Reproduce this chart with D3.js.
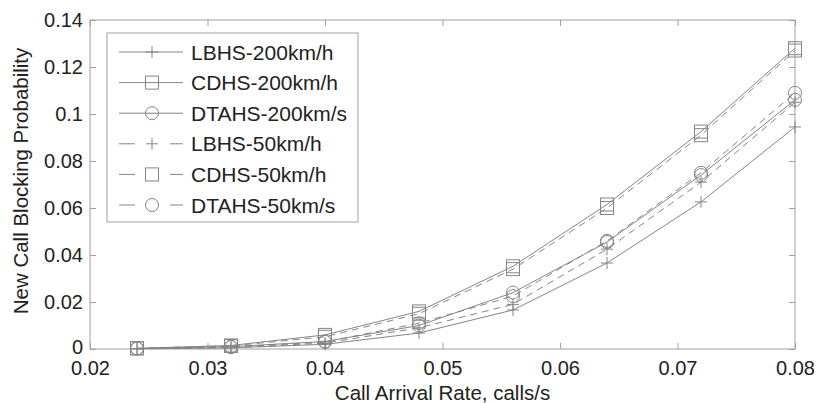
<!DOCTYPE html>
<meta charset="utf-8">
<style>
  body { margin: 0; background: #fff; }
  text { font-family: "Liberation Sans", Arial, sans-serif; fill: #222; }
</style>
<body>
<div id="chart"></div>
<script src="https://d3js.org/d3.v7.min.js"></script>
<script>
// data
var rates = [0.024, 0.032, 0.040, 0.048, 0.056, 0.064, 0.072, 0.080];
var lbhs200  = [0.0001, 0.0005, 0.0020, 0.0068, 0.0166, 0.0366, 0.0626, 0.0945];
var cdhs200  = [0.0003, 0.0015, 0.0060, 0.0160, 0.0352, 0.0615, 0.0925, 0.1280];
var dtahs200 = [0.0002, 0.0010, 0.0032, 0.0100, 0.0240, 0.0455, 0.0740, 0.1060];
var lbhs50   = [0.0001, 0.0006, 0.0025, 0.0090, 0.0190, 0.0425, 0.0710, 0.1050];
var cdhs50   = [0.0003, 0.0013, 0.0052, 0.0150, 0.0340, 0.0600, 0.0910, 0.1270];
var dtahs50  = [0.0002, 0.0008, 0.0030, 0.0110, 0.0225, 0.0460, 0.0750, 0.1090];
var xTicks = [0.02, 0.03, 0.04, 0.05, 0.06, 0.07, 0.08];
var yTicks = [0, 0.02, 0.04, 0.06, 0.08, 0.1, 0.12, 0.14];

var series = [
  {name: "LBHS-200km/h",  values: lbhs200,  marker: "plus",   dashed: false},
  {name: "CDHS-200km/h",  values: cdhs200,  marker: "square", dashed: false},
  {name: "DTAHS-200km/s", values: dtahs200, marker: "circle", dashed: false},
  {name: "LBHS-50km/h",   values: lbhs50,   marker: "plus",   dashed: true},
  {name: "CDHS-50km/h",   values: cdhs50,   marker: "square", dashed: true},
  {name: "DTAHS-50km/s",  values: dtahs50,  marker: "circle", dashed: true}
];

var width = 817, height = 403;
var margin = {top: 20, right: 22, bottom: 54, left: 90};
var w = width - margin.left - margin.right,
    h = height - margin.top - margin.bottom;

var svg = d3.select("#chart").append("svg")
    .attr("width", width)
    .attr("height", height);

var g = svg.append("g")
    .attr("transform", "translate(" + margin.left + "," + margin.top + ")");

var x = d3.scaleLinear().domain([0.02, 0.08]).range([0, w]);
var y = d3.scaleLinear().domain([0, 0.14]).range([h, 0]);

var axisColor = "#a0a0a0";
var lineColor = "#858585";

// box
g.append("rect")
    .attr("width", w).attr("height", h)
    .attr("fill", "none").attr("stroke", axisColor);

function fmt(d) { return d === 0 ? "0" : String(+d.toFixed(2)); }

var xAxis = g.append("g")
    .attr("transform", "translate(0," + h + ")")
    .call(d3.axisBottom(x).tickValues(xTicks).tickSize(-6).tickPadding(12).tickFormat(fmt));
var xTop = g.append("g")
    .call(d3.axisTop(x).tickValues(xTicks).tickSize(-6).tickFormat(""));
var yAxis = g.append("g")
    .call(d3.axisLeft(y).tickValues(yTicks).tickSize(-6).tickPadding(7).tickFormat(fmt));
var yRight = g.append("g")
    .attr("transform", "translate(" + w + ",0)")
    .call(d3.axisRight(y).tickValues(yTicks).tickSize(-6).tickFormat(""));

[xAxis, xTop, yAxis, yRight].forEach(function(a) {
  a.select(".domain").remove();
  a.selectAll("line").attr("stroke", axisColor);
  a.selectAll("text").attr("font-size", 20).attr("fill", "#222")
    .attr("font-family", "Liberation Sans, Arial, sans-serif");
});

// nudge the "0" label up a little so it sits clear of "0.02"
yAxis.selectAll(".tick text").filter(function(d) { return d === 0; }).attr("dy", "0.2em");

// axis titles
svg.append("text")
    .attr("x", margin.left + w / 2)
    .attr("y", 400)
    .attr("text-anchor", "middle")
    .attr("font-size", 20.5)
    .text("Call Arrival Rate, calls/s");

svg.append("text")
    .attr("transform", "translate(28,181) rotate(-90)")
    .attr("text-anchor", "middle")
    .attr("font-size", 20.5)
    .text("New Call Blocking Probability");

function drawMarker(sel, type) {
  var m;
  if (type === "plus") {
    m = sel.append("path").attr("d", "M-6,0H6M0,-6V6");
  } else if (type === "square") {
    m = sel.append("rect").attr("x", -6.5).attr("y", -6.5).attr("width", 13).attr("height", 13);
  } else {
    m = sel.append("circle").attr("r", 6.5);
  }
  m.attr("fill", "none").attr("stroke", lineColor).attr("stroke-width", 1);
}

var line = d3.line()
    .x(function(d, i) { return x(rates[i]); })
    .y(function(d) { return y(d); });

series.forEach(function(s) {
  g.append("path")
      .datum(s.values)
      .attr("d", line)
      .attr("fill", "none")
      .attr("stroke", lineColor)
      .attr("stroke-width", 1)
      .attr("stroke-dasharray", s.dashed ? "7,5" : null);

  s.values.forEach(function(v, i) {
    var m = g.append("g").attr("transform", "translate(" + x(rates[i]) + "," + y(v) + ")");
    drawMarker(m, s.marker);
  });
});

// legend
var lg = svg.append("g").attr("transform", "translate(107,33)");
lg.append("rect")
    .attr("width", 251).attr("height", 189)
    .attr("fill", "#fff").attr("stroke", axisColor);

var items = lg.selectAll(".item")
    .data(series)
  .enter().append("g")
    .attr("class", "item")
    .attr("transform", function(d, i) { return "translate(0," + (19 + i * 30.6) + ")"; });

items.append("line")
    .attr("x1", 12).attr("x2", 76)
    .attr("stroke", lineColor)
    .attr("stroke-dasharray", function(d) { return d.dashed ? "16,35" : null; });

items.each(function(d) {
  var m = d3.select(this).append("g").attr("transform", "translate(45,0)");
  drawMarker(m, d.marker);
});

items.append("text")
    .attr("x", 84)
    .attr("dy", "0.36em")
    .attr("font-size", 21)
    .text(function(d) { return d.name; });
</script>
</body>
